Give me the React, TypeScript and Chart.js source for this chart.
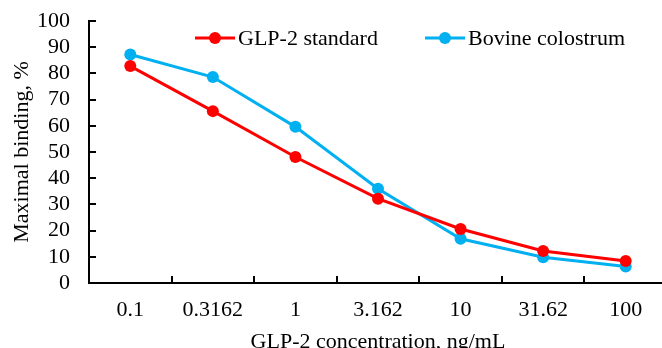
import React, { useEffect, useRef } from "react";
import { Chart, registerables } from "chart.js";

Chart.register(...registerables);

const categories = ["0.1", "0.3162", "1", "3.162", "10", "31.62", "100"];
const glp2Standard = [82.8, 65.6, 48.1, 32.2, 20.6, 12.2, 8.4];
const bovineColostrum = [87.2, 78.6, 59.6, 36.0, 16.9, 9.8, 6.3];
const seriesNames = ["GLP-2 standard", "Bovine colostrum"];
const yTicks = { min: 0, max: 100, step: 10 };

const FONT = "'Liberation Serif', 'Times New Roman', serif";
const FS = 22;
const CANVAS_W = 667;
const CANVAS_H = 355;

const legendPlugin = {
  id: "insideLegend",
  afterDraw(chart: any) {
    const ctx = chart.ctx;
    const ds = chart.data.datasets;
    const positions = [195, 425];
    const y = 38;
    ctx.save();
    ds.forEach((d: any, i: number) => {
      const x0 = positions[i];
      ctx.strokeStyle = d.borderColor;
      ctx.lineWidth = 3;
      ctx.beginPath();
      ctx.moveTo(x0, y);
      ctx.lineTo(x0 + 40, y);
      ctx.stroke();
      ctx.fillStyle = d.borderColor;
      ctx.beginPath();
      ctx.arc(x0 + 20, y, 6, 0, Math.PI * 2);
      ctx.fill();
      ctx.fillStyle = "#000";
      ctx.font = `${FS}px ${FONT}`;
      ctx.textBaseline = "middle";
      ctx.textAlign = "left";
      ctx.fillText(d.label, x0 + 43, y + 1);
    });
    ctx.restore();
  },
};

const innerTicksPlugin = {
  id: "innerTicks",
  beforeDatasetsDraw(chart: any) {
    const ctx = chart.ctx;
    const xs = chart.scales.x;
    const ys = chart.scales.y;
    const axisX = chart.chartArea.left;
    const axisY = chart.chartArea.bottom;
    const len = 7;
    ctx.save();
    ctx.strokeStyle = "#000";
    ctx.lineWidth = 2;
    ctx.beginPath();
    ys.ticks.forEach((t: any) => {
      const py = Math.round(ys.getPixelForValue(t.value));
      ctx.moveTo(axisX, py);
      ctx.lineTo(axisX + len, py);
    });
    const n = xs.ticks.length;
    const step = n > 1 ? xs.getPixelForValue(1) - xs.getPixelForValue(0) : 0;
    for (let i = 1; i <= n; i++) {
      const px = Math.round(xs.getPixelForValue(i) - step / 2);
      ctx.moveTo(px, axisY);
      ctx.lineTo(px, axisY - len);
    }
    ctx.stroke();
    ctx.restore();
  },
};

export default function App() {
  const ref = useRef<HTMLCanvasElement>(null);
  useEffect(() => {
    if (!ref.current) return;
    const chart = new Chart(ref.current, {
      type: "line",
      data: {
        labels: categories,
        datasets: [
          {
            label: seriesNames[0],
            data: glp2Standard,
            borderColor: "#FF0000",
            backgroundColor: "#FF0000",
            borderWidth: 3,
            pointRadius: 6,
            pointBorderWidth: 0,
            tension: 0,
          },
          {
            label: seriesNames[1],
            data: bovineColostrum,
            borderColor: "#00B0F0",
            backgroundColor: "#00B0F0",
            borderWidth: 3,
            pointRadius: 6,
            pointBorderWidth: 0,
            tension: 0,
          },
        ],
      },
      options: {
        animation: false,
        responsive: false,
        maintainAspectRatio: false,
        layout: { autoPadding: false, padding: { top: 21, right: 0, left: 0, bottom: 0 } },
        plugins: {
          legend: { display: false },
          tooltip: { enabled: false },
        },
        scales: {
          x: {
            type: "category",
            offset: true,
            grid: {
              offset: true,
              display: true,
              drawOnChartArea: false,
              drawTicks: false,
            },
            border: { display: true, color: "#000", width: 2 },
            ticks: {
              color: "#000",
              font: { family: FONT, size: FS },
              padding: 14,
              maxRotation: 0,
              autoSkip: false,
            },
            title: {
              display: true,
              text: "GLP-2 concentration, ng/mL",
              color: "#000",
              font: { family: FONT, size: FS },
              padding: { top: 3, bottom: 0 },
            },
            afterFit: (s: any) => {
              s.height = CANVAS_H - 283;
              s.paddingLeft = 0;
              s.paddingRight = 0;
            },
          },
          y: {
            min: yTicks.min,
            max: yTicks.max,
            grid: {
              display: true,
              drawOnChartArea: false,
              drawTicks: false,
            },
            border: { display: true, color: "#000", width: 2 },
            ticks: {
              stepSize: yTicks.step,
              autoSkip: false,
              color: "#000",
              font: { family: FONT, size: FS },
              padding: 19,
            },
            title: {
              display: true,
              text: "Maximal binding, %",
              color: "#000",
              font: { family: FONT, size: FS },
              padding: { top: 9, bottom: 4 },
            },
            afterFit: (s: any) => {
              s.width = 89;
              s.paddingTop = 0;
              s.paddingBottom = 0;
            },
          },
        },
      },
      plugins: [innerTicksPlugin, legendPlugin],
    });
    return () => chart.destroy();
  }, []);
  return (
    <div style={{ position: "fixed", left: 0, top: 0, width: 662, height: 348, overflow: "hidden", background: "#fff" }}>
      <canvas ref={ref} width={CANVAS_W} height={CANVAS_H} style={{ display: "block" }} />
    </div>
  );
}
